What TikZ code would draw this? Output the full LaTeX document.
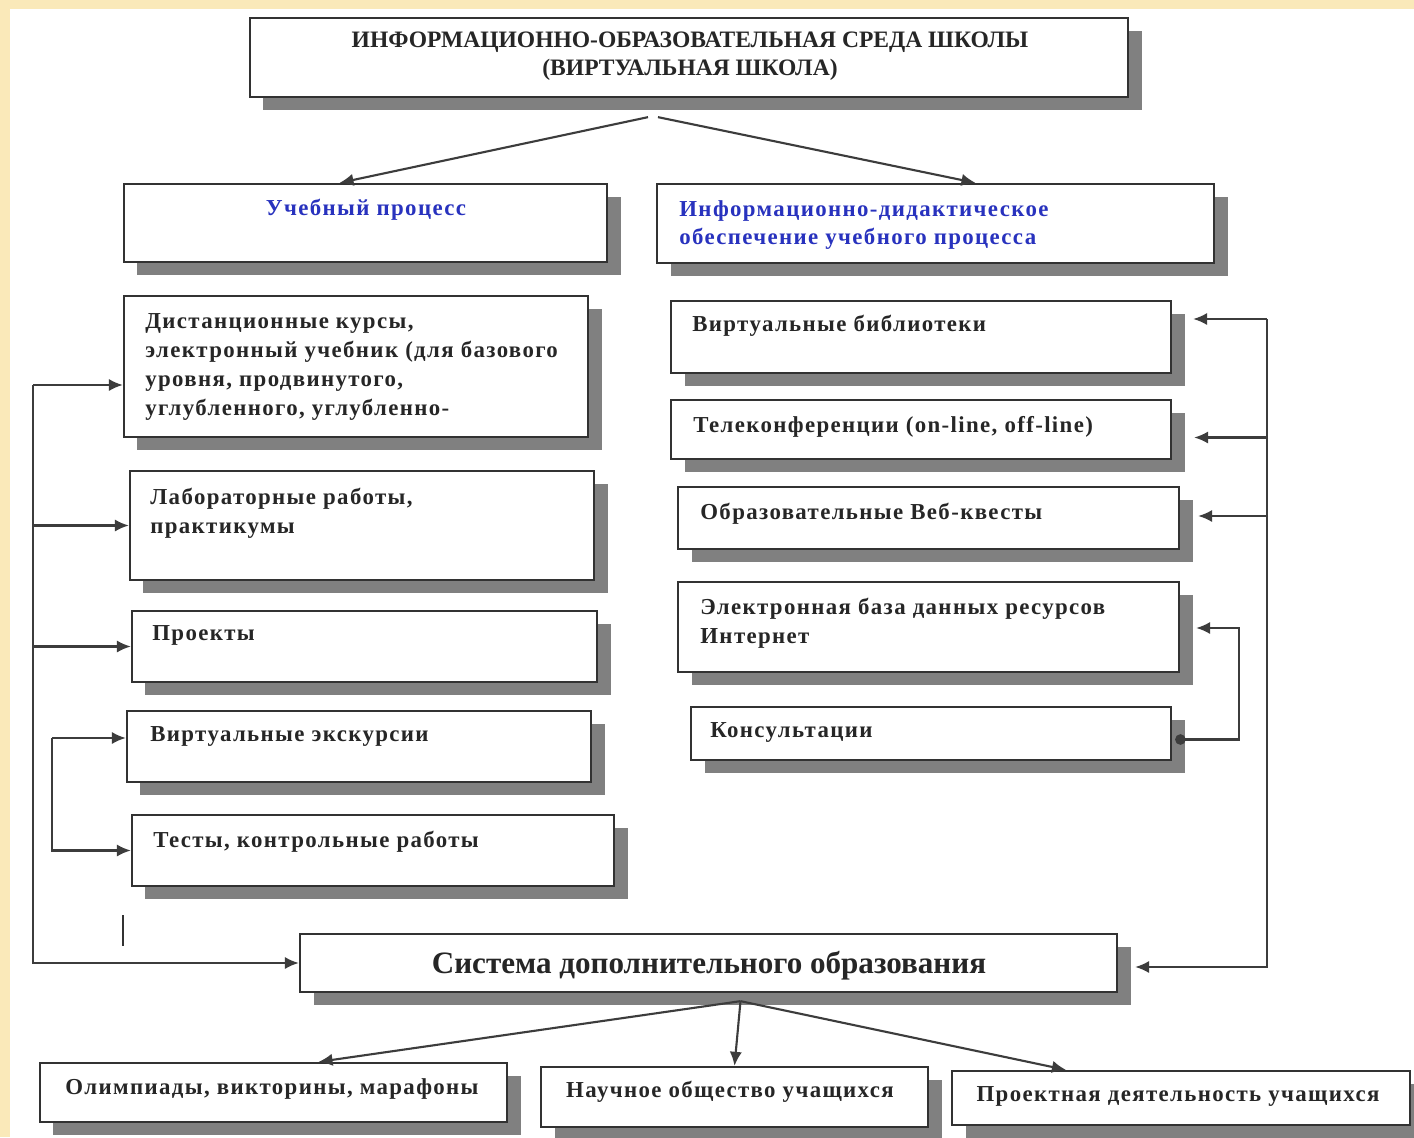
\documentclass[tikz,border=0pt]{standalone}
\usepackage{fontspec}
\setmainfont{Liberation Serif}
\newfontfamily\spacedserif[LetterSpace=6]{Liberation Serif}
\usetikzlibrary{arrows.meta,calc,fit,shadows}
\definecolor{cream}{RGB}{250,233,185}
\definecolor{shade}{RGB}{128,128,128}
\definecolor{frame}{RGB}{50,50,50}
\definecolor{wire}{RGB}{60,60,60}
\definecolor{headblue}{RGB}{40,50,190}
\tikzset{
    >={Latex[length=8pt,width=7pt]},
    box/.style={draw=frame, line width=1.3pt, fill=white, inner sep=0pt,
        drop shadow={shadow xshift=0.27cm, shadow yshift=-0.25cm, fill=shade, opacity=1}},
    txt/.style={inner sep=0pt, font=\spacedserif\fontsize{13}{16.4}\selectfont\bfseries, text=black!85, align=left},
    arr/.style={->, draw=wire, line width=1.2pt},
}
\begin{document}
\begin{tikzpicture}[x=0.02cm, y=-0.02cm]
    \fill[cream] (0,0) rectangle (1414,1137);
    \fill[white] (10,9) rectangle (1414,1137);
    \useasboundingbox (0,0) rectangle (1414,1137);

    \node[box, fit={(250,18) (1128,97)}] (top) {};
    \node[box, fit={(124,184) (607,262)}] (learn) {};
    \node[box, fit={(657,184) (1214,263)}] (info) {};
    \node[box, fit={(124,296) (588,437)}] (dist) {};
    \node[box, fit={(130,471) (594,580)}] (lab) {};
    \node[box, fit={(132,611) (597,682)}] (proj) {};
    \node[box, fit={(127,711) (591,782)}] (tour) {};
    \node[box, fit={(132,815) (614,886)}] (test) {};
    \node[box, fit={(671,301) (1171,373)}] (lib) {};
    \node[box, fit={(671,400) (1171,459)}] (conf) {};
    \node[box, fit={(678,487) (1179,549)}] (quest) {};
    \node[box, fit={(678,582) (1179,672)}] (base) {};
    \node[box, fit={(691,707) (1171,760)}] (cons) {};
    \node[box, fit={(300,934) (1117,992)}] (extra) {};
    \node[box, fit={(40,1063) (507,1122)}] (olymp) {};
    \node[box, fit={(541,1067) (928,1127)}] (soc) {};
    \node[box, fit={(952,1071) (1410,1125)}] (work) {};

    \node[txt, align=center, font=\fontsize{13.4}{16}\selectfont\bfseries] (top-t) at (690,56) {ИНФОРМАЦИОННО-ОБРАЗОВАТЕЛЬНАЯ СРЕДА ШКОЛЫ\\(ВИРТУАЛЬНАЯ ШКОЛА)};
    \node[txt, text=headblue] (learn-t) at (366,210) {Учебный процесс};
    \node[txt, text=headblue, anchor=west] (info-t) at (679,225) {Информационно-дидактическое\\обеспечение учебного процесса};
    \node[txt, anchor=west] (dist-t) at (145,367) {Дистанционные курсы,\\электронный учебник (для базового\\уровня, продвинутого,\\углубленного, углубленно-};
    \node[txt, anchor=west] (lab-t) at (150,513) {Лабораторные работы,\\практикумы};
    \node[txt, anchor=west] (proj-t) at (152,635) {Проекты};
    \node[txt, anchor=west] (tour-t) at (150,736) {Виртуальные экскурсии};
    \node[txt, anchor=west] (test-t) at (153,842) {Тесты, контрольные работы};
    \node[txt, anchor=west] (lib-t) at (692,326) {Виртуальные библиотеки};
    \node[txt, anchor=west] (conf-t) at (693,427) {Телеконференции (on-line, off-line)};
    \node[txt, anchor=west] (quest-t) at (700,514) {Образовательные Веб-квесты};
    \node[txt, anchor=west] (base-t) at (700,623) {Электронная база данных ресурсов\\Интернет};
    \node[txt, anchor=west] (cons-t) at (710,732) {Консультации};
    \node[txt, font=\fontsize{17.7}{20}\selectfont\bfseries] (extra-t) at (709,966) {Система дополнительного образования};
    \node[txt] (olymp-t) at (272,1089) {Олимпиады, викторины, марафоны};
    \node[txt] (soc-t) at (730,1092) {Научное общество учащихся};
    \node[txt] (work-t) at (1178,1096) {Проектная деятельность учащихся};

    \draw[arr] ($(top.south)+(-41,19)$) -- ($(learn.north)+(-26,0)$);
    \draw[arr] ($(top.south)+(-31,19)$) -- ($(info.north)+(40,0)$);

    \coordinate (lbus) at (33,385);
    \draw[arr] (lbus) |- (extra.west);
    \draw[arr] (lbus) -- (lbus -| dist.west);
    \draw[arr] (lbus |- lab.west) -- (lab.west);
    \draw[arr] (lbus |- proj.west) -- (proj.west);

    \coordinate (sbus) at (52,738);
    \draw[arr] (sbus) -- (sbus -| tour.west);
    \draw[arr] (sbus) |- (test.west);
    \draw[line width=1.6pt, black!80] (123,915) -- (123,946);

    \coordinate (rbus) at (1267,319);
    \coordinate (libtip) at ($(lib.east)+(21,0)$);
    \draw[arr] (rbus) |- ($(extra.east)+(17,4)$);
    \draw[arr] (rbus) -- (libtip |- rbus);
    \draw[arr] ($(conf.east)+(96,8)$) -- ($(conf.east)+(22,8)$);
    \draw[arr] ($(quest.east)+(88,-2)$) -- ($(quest.east)+(18,-2)$);
    \draw[arr, {Circle[length=6pt]}->] ($(cons.east)+(3,6)$) -- ++(64,0) |- ($(base.east)+(16,1)$);

    \coordinate (extrafoot) at ($(extra.south)+(32,8)$);
    \draw[arr] (extrafoot) -- ($(olymp.north)+(45,0)$);
    \draw[arr] (extrafoot) -- (soc.north);
    \draw[arr] (extrafoot) -- ($(work.north)+(-115,0)$);
\end{tikzpicture}
\end{document}
